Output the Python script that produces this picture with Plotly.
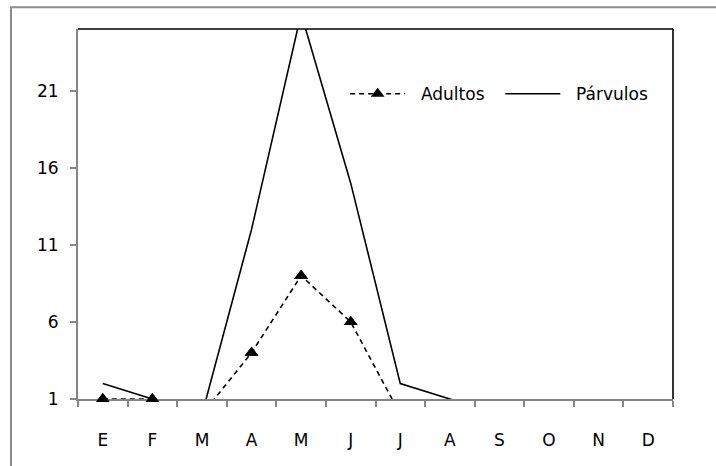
import plotly.graph_objects as go

months = ["E", "F", "M", "A", "M", "J", "J", "A", "S", "O", "N", "D"]
adultos = [1, 1, 0, 4, 9, 6, 0, 0, 0, 0, 0, 0]
parvulos = [2, 1, 0, 12, 26, 15, 2, 1, 0, 0, 0, 0]
y_ticks = [1, 6, 11, 16, 21]
y_min, y_max = 1, 25

xs = list(range(len(months)))
FONT = "DejaVu Sans"
FS = 17
GRAY = "#868686"
NB = "\u00a0\u00a0"

fig = go.Figure()

fig.add_trace(go.Scatter(
    x=xs, y=adultos, name=NB + "Adultos" + NB, mode="lines+markers",
    line=dict(color="black", width=1.6, dash="5px,4px"),
    marker=dict(symbol="triangle-up", size=12, color="black"),
    cliponaxis=True,
))
# visible markers (values inside the axis range) drawn unclipped
fig.add_trace(go.Scatter(
    x=xs, y=[v if v >= y_min else None for v in adultos], mode="markers",
    marker=dict(symbol="triangle-up", size=12, color="black"),
    showlegend=False, cliponaxis=False, hoverinfo="skip",
))
fig.add_trace(go.Scatter(
    x=xs, y=parvulos, name=NB + "Párvulos", mode="lines",
    line=dict(color="black", width=1.6),
))

L, R, T, B = 78, 716 - 672.7, 28.7, 466 - 399.3
pw = 716 - L - R
ph = 466 - T - B

fig.update_layout(
    width=716, height=466,
    margin=dict(l=L, r=R, t=T, b=B, pad=0),
    paper_bgcolor="white", plot_bgcolor="white",
    font=dict(family=FONT, size=FS, color="black"),
    showlegend=True,
    legend=dict(
        orientation="h", x=(345 - L) / pw, y=(399.3 - 76) / ph,
        xanchor="left", yanchor="top", bgcolor="rgba(0,0,0,0)",
        itemwidth=55, font=dict(family=FONT, size=FS),
    ),
    xaxis=dict(
        range=[-0.5, len(months) - 0.5], tickvals=xs, ticktext=months,
        showgrid=False, zeroline=False, showline=True, linecolor=GRAY, linewidth=2,
        ticks="", ticklabelstandoff=25, layer="below traces",
        minor=dict(tick0=-0.5, dtick=1, ticks="outside", ticklen=6, tickcolor=GRAY, tickwidth=1.5, showgrid=False),
        fixedrange=True,
    ),
    yaxis=dict(
        range=[y_min, y_max], tickvals=y_ticks,
        showgrid=False, zeroline=False, showline=True, linecolor=GRAY, linewidth=2,
        ticks="outside", ticklen=6, tickcolor=GRAY, tickwidth=1.5, ticklabelstandoff=8,
        layer="below traces",
        fixedrange=True,
    ),
    shapes=[
        # outer chart border
        dict(type="rect", xref="paper", yref="paper",
             x0=(11 - L) / pw, x1=1.3, y0=-0.4, y1=(399.3 - 7) / ph,
             line=dict(color="#8c8c8c", width=2), layer="below"),
        # plot area top and right borders
        dict(type="line", xref="paper", yref="paper", x0=0, x1=1, y0=1, y1=1,
             line=dict(color="black", width=1.6)),
        dict(type="line", xref="paper", yref="paper", x0=1, x1=1, y0=0, y1=1,
             line=dict(color="black", width=1.6)),
    ],
)

fig.write_html("out.html")
